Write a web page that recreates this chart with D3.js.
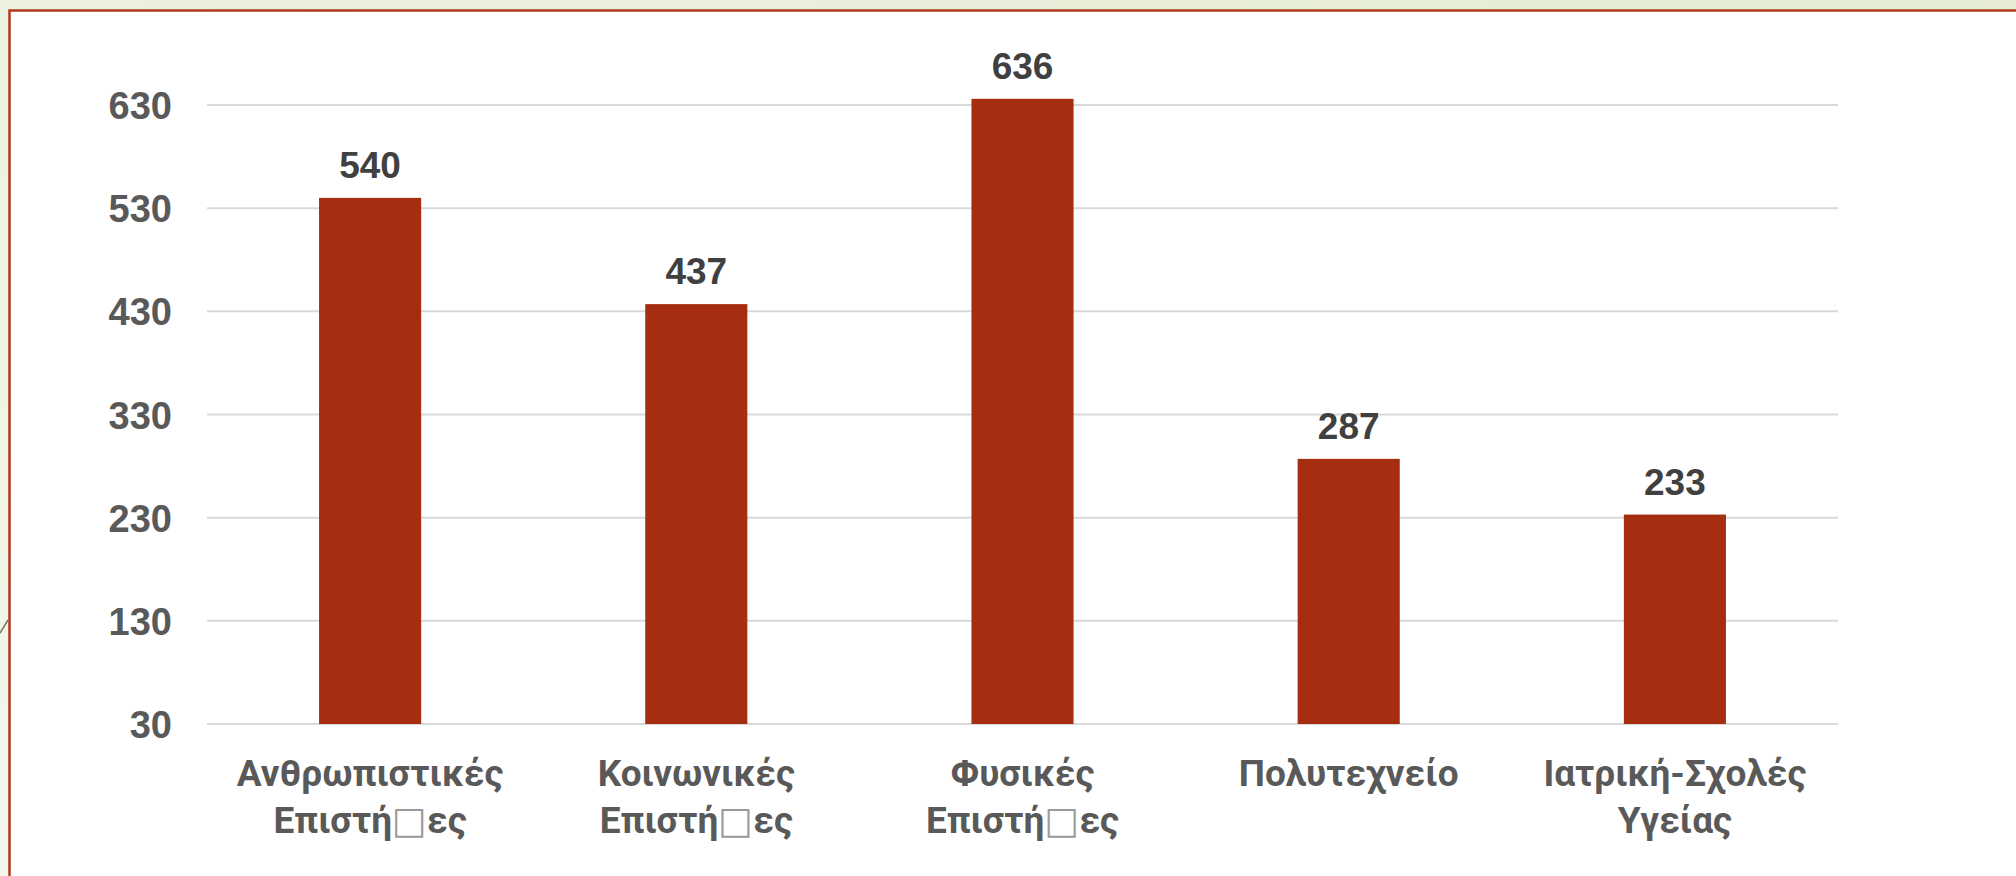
<!DOCTYPE html>
<html>
<head>
<meta charset="utf-8">
<script src="https://cdn.jsdelivr.net/npm/d3@7"></script>
<style>
  html, body { margin: 0; padding: 0; overflow: hidden; }
  svg { display: block; }
</style>
</head>
<body>
<svg id="chart"></svg>
<script>
// data
const categories = [
  ["Ανθρωπιστικές", "Επιστή\u25A1ες"],
  ["Κοινωνικές", "Επιστή\u25A1ες"],
  ["Φυσικές", "Επιστή\u25A1ες"],
  ["Πολυτεχνείο"],
  ["Ιατρική-Σχολές", "Υγείας"]
];
const values = [540, 437, 636, 287, 233];
const yTicks = [30, 130, 230, 330, 430, 530, 630];

const width = 2016;
const height = 876;
const plot = { left: 207, right: 1838, top: 105, bottom: 724 };

const svg = d3.select("#chart")
  .attr("width", width)
  .attr("height", height);

// slide background
const defs = svg.append("defs");
const grad = defs.append("linearGradient")
  .attr("id", "bg")
  .attr("x1", "0").attr("y1", "1").attr("x2", "1").attr("y2", "0");
grad.append("stop").attr("offset", "0").attr("stop-color", "#f4f6ec");
grad.append("stop").attr("offset", "1").attr("stop-color", "#e5ecd3");

svg.append("rect")
  .attr("width", width).attr("height", height)
  .attr("fill", "url(#bg)");

// small decoration line at left edge
svg.append("line")
  .attr("x1", 0).attr("y1", 633).attr("x2", 8).attr("y2", 620)
  .attr("stroke", "#7d7563").attr("stroke-width", 1.5);

// white panel with red border (top + left)
svg.append("rect")
  .attr("x", 10).attr("y", 11)
  .attr("width", width - 10).attr("height", height - 11)
  .attr("fill", "#ffffff");
svg.append("path")
  .attr("d", `M9.5,${height} V10.5 H${width}`)
  .attr("fill", "none")
  .attr("stroke", "#b0391c")
  .attr("stroke-width", 2.5);

// scales
const x = d3.scaleBand()
  .domain(d3.range(values.length))
  .range([plot.left, plot.right])
  .padding(0);

const y = d3.scaleLinear()
  .domain([30, 630])
  .range([plot.bottom, plot.top]);

const barW = x.bandwidth() * 0.313;

// gridlines
svg.append("g")
  .selectAll("line")
  .data(yTicks)
  .enter()
  .append("line")
  .attr("x1", plot.left)
  .attr("x2", plot.right)
  .attr("y1", d => y(d))
  .attr("y2", d => y(d))
  .attr("stroke", "#d9d9d9")
  .attr("stroke-width", 2);

// y labels
svg.append("g")
  .selectAll("text")
  .data(yTicks)
  .enter()
  .append("text")
  .attr("x", 172)
  .attr("y", d => y(d) + 14)
  .attr("text-anchor", "end")
  .attr("font-family", "'Liberation Sans', Arial, sans-serif")
  .attr("font-weight", "bold")
  .attr("font-size", "38px")
  .attr("fill", "#595959")
  .text(d => d);

// bars
svg.append("g")
  .selectAll("rect")
  .data(values)
  .enter()
  .append("rect")
  .attr("x", (d, i) => x(i) + x.bandwidth() / 2 - barW / 2)
  .attr("y", d => y(d))
  .attr("width", barW)
  .attr("height", d => y(30) - y(d))
  .attr("fill", "#a52e10");

// value labels
svg.append("g")
  .selectAll("text")
  .data(values)
  .enter()
  .append("text")
  .attr("x", (d, i) => x(i) + x.bandwidth() / 2)
  .attr("y", d => y(d) - 20)
  .attr("text-anchor", "middle")
  .attr("font-family", "'Liberation Sans', Arial, sans-serif")
  .attr("font-weight", "bold")
  .attr("font-size", "37px")
  .attr("fill", "#404040")
  .text(d => d);

// category labels
const catG = svg.append("g")
  .selectAll("text")
  .data(categories)
  .enter()
  .append("text")
  .attr("text-anchor", "middle")
  .attr("font-family", "Roboto, 'Open Sans', sans-serif")
  .attr("font-weight", "bold")
  .attr("font-size", "37px")
  .attr("fill", "#595959");

catG.each(function(lines, i) {
  const t = d3.select(this);
  lines.forEach((line, k) => {
    const tsp = t.append("tspan")
      .attr("x", x(i) + x.bandwidth() / 2)
      .attr("y", 786 + k * 47);
    const parts = line.split("\u25A1");
    parts.forEach((p, j) => {
      tsp.append("tspan").text(p);
      if (j < parts.length - 1) {
        tsp.append("tspan")
          .attr("font-family", "'DejaVu Sans', sans-serif")
          .attr("font-weight", "normal")
          .attr("fill", "#9a9a9a")
          .text("\u25A1");
      }
    });
  });
});
</script>
</body>
</html>
